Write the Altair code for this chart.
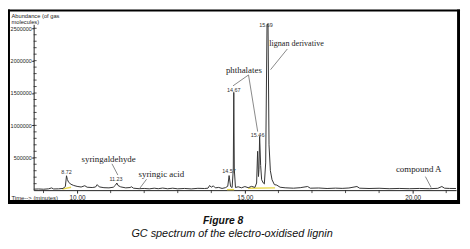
import altair as alt
import pandas as pd

# ---- chromatogram trace (retention time [min], abundance) ----
trace_time = [8.71, 8.85, 9.00, 9.15, 9.24, 9.30, 9.45, 9.58, 9.65, 9.685, 9.71, 9.75, 9.82, 9.90,
              10.00, 10.12, 10.23, 10.30, 10.45, 10.55, 10.60, 10.66, 10.80, 10.95, 11.08, 11.15,
              11.185, 11.22, 11.30, 11.45, 11.58, 11.62, 11.68, 11.85, 12.00, 12.15, 12.30, 12.42,
              12.55, 12.70, 12.85, 13.00, 13.20, 13.40, 13.60, 13.80, 13.90, 13.95, 14.00, 14.06,
              14.12, 14.22, 14.32, 14.42, 14.49, 14.53, 14.575, 14.62, 14.655, 14.67, 14.685, 14.72,
              14.80, 14.90, 15.00, 15.10, 15.20, 15.30, 15.35, 15.38, 15.405, 15.42, 15.44, 15.47,
              15.50, 15.55, 15.58, 15.62, 15.66, 15.69, 15.72, 15.76, 15.81, 15.88, 15.95, 16.05,
              16.20, 16.45, 16.65, 16.87, 16.95, 17.20, 17.45, 17.70, 17.90, 18.10, 18.34, 18.42,
              18.70, 19.00, 19.30, 19.60, 19.90, 20.20, 20.50, 20.75, 20.87, 20.95, 21.10, 21.29]
trace_abund = [15000, 18000, 14000, 20000, 34000, 18000, 20000, 26000, 55000, 222000, 165000, 120000, 90000, 72000,
               58000, 48000, 68000, 45000, 40000, 48000, 85000, 50000, 38000, 35000, 45000, 80000,
               110000, 72000, 50000, 35000, 40000, 52000, 30000, 22000, 26000, 20000, 30000, 22000,
               32000, 21000, 30000, 20000, 26000, 19000, 28000, 25000, 30000, 72000, 45000, 66000,
               35000, 42000, 26000, 38000, 60000, 225000, 55000, 40000, 320000, 1510000, 320000, 40000,
               52000, 36000, 55000, 38000, 58000, 42000, 110000, 600000, 210000, 320000, 830000, 380000,
               160000, 110000, 95000, 420000, 2560000, 2560000, 700000, 300000, 160000, 85000, 78000, 45000,
               36000, 30000, 38000, 56000, 30000, 33000, 25000, 31000, 27000, 33000, 56000, 30000,
               25000, 29000, 22000, 26000, 22000, 26000, 22000, 28000, 56000, 30000, 26000, 25000]

# ---- integration baselines (yellow) ----
yellow_seg = [1, 1, 2, 2, 3, 3]
yellow_time = [9.56, 9.82, 14.47, 14.68, 15.10, 15.90]
yellow_abund = [15000, 45000, 8000, 8000, 30000, 35000]

# ---- retention-time labels on peaks ----
peak_text = ["8.72", "11.23", "14.57", "14.67", "15.46", "15.69"]
peak_time = [9.685, 11.16, 14.53, 14.67, 15.38, 15.63]
peak_abund = [279000, 175000, 297000, 1550000, 854000, 2556000]

# ---- compound annotations ----
annot_text = ["syringaldehyde", "syringic acid", "phthalates", "lignan derivative", "compound A"]
annot_time = [10.94, 12.51, 14.97, 16.54, 20.18]
annot_abund = [473000, 244000, 1860000, 2256000, 320000]
annot_size = [9, 9, 9, 8.2, 9]

# ---- leader lines ----
lead_t1 = [11.04, 12.07, 15.109, 15.109, 16.265, 20.38]
lead_a1 = [407000, 168000, 1779000, 1779000, 2180000, 209000]
lead_t2 = [11.215, 11.87, 14.647, 15.382, 15.765, 20.55]
lead_a2 = [233000, 30000, 1611000, 904000, 1860000, 41000]

# ---- axes ----
x_major = [10, 15, 20]
x_minor = [9, 11, 12, 13, 14, 16, 17, 18, 19, 21]
y_major = [500000, 1000000, 1500000, 2000000, 2500000]
y_minor = [100000, 200000, 300000, 400000, 500000, 600000, 700000, 800000, 900000, 1000000,
           1100000, 1200000, 1300000, 1400000, 1500000, 1600000, 1700000, 1800000, 1900000, 2000000,
           2100000, 2200000, 2300000, 2400000, 2500000]

caption_title = "Figure 8"
caption_sub = "GC spectrum of the electro-oxidised lignin"

trace = pd.DataFrame({"t": trace_time, "a": trace_abund})
yellow = pd.DataFrame({"seg": yellow_seg, "t": yellow_time, "a": yellow_abund})
peaks = pd.DataFrame({"label": peak_text, "t": peak_time, "a": peak_abund})
annots = pd.DataFrame({"label": annot_text, "t": annot_time, "a": annot_abund, "s": annot_size})
leads = pd.DataFrame({"t1": lead_t1, "a1": lead_a1, "t2": lead_t2, "a2": lead_a2})
yminor = pd.DataFrame({"v": y_minor})
xminor = pd.DataFrame({"v": x_minor})
one = pd.DataFrame({"k": [0]})

xs = alt.Scale(domain=[8.706, 21.294], nice=False, zero=False)
ys = alt.Scale(domain=[0, 2561000], nice=False, zero=True)
INK = "#222222"

x_axis = alt.Axis(values=x_major, format=".2f",
                  tickSize=3, tickColor=INK, domainColor=INK, labelColor=INK, labelFont="Liberation Sans",
                  labelFontSize=6.5, labelPadding=1, grid=False, labelOverlap=False, labelFlush=False,
                  title="Time--> (minutes)", titleFont="Liberation Sans", titleFontSize=6,
                  titleFontWeight="normal", titleColor=INK, titleAlign="left", titleBaseline="middle",
                  titleX=-23, titleY=7, titleAngle=0)
y_axis = alt.Axis(values=y_major, format="d", tickSize=2, tickColor=INK, domainColor=INK,
                  labelColor=INK, labelFont="Liberation Sans", labelFontSize=5.5, labelPadding=0.5,
                  grid=False, labelOverlap=False, labelFlush=False,
                  title=["Abundance (of gas", "molecules)"], titleFont="Liberation Sans",
                  titleFontSize=5.8, titleFontWeight="normal", titleColor=INK, titleAngle=0,
                  titleAlign="left", titleBaseline="top", titleX=-23, titleY=-12, titleLineHeight=6.5)

line = alt.Chart(trace).mark_line(color="#333333", strokeWidth=1).encode(
    x=alt.X("t:Q", scale=xs, axis=x_axis),
    y=alt.Y("a:Q", scale=ys, axis=y_axis),
    order="t:Q",
)

ylw = alt.Chart(yellow).mark_line(color="#e8d84a", strokeWidth=1.4).encode(
    x=alt.X("t:Q", scale=xs), y=alt.Y("a:Q", scale=ys), detail="seg:N")

y_minor_ticks = alt.Chart(yminor).mark_rule(color=INK, strokeWidth=0.8).encode(
    x=alt.value(0), x2=alt.value(3), y=alt.Y("v:Q", scale=ys))

x_minor_ticks = alt.Chart(xminor).mark_rule(color=INK, strokeWidth=0.8).encode(
    x=alt.X("v:Q", scale=xs), y=alt.value(168), y2=alt.value(171))

leaders = alt.Chart(leads).mark_rule(color="#555555", strokeWidth=0.7).encode(
    x=alt.X("t1:Q", scale=xs), y=alt.Y("a1:Q", scale=ys), x2="t2:Q", y2="a2:Q")

annot = alt.Chart(annots).mark_text(font="Liberation Serif", color="#222222", align="center",
                                    baseline="middle").encode(
    x=alt.X("t:Q", scale=xs), y=alt.Y("a:Q", scale=ys), text="label:N",
    size=alt.Size("s:Q", scale=None, legend=None))

plabels = alt.Chart(peaks).mark_text(font="Liberation Sans", fontSize=5.5, color="#333333",
                                     align="center", baseline="middle").encode(
    x=alt.X("t:Q", scale=xs), y=alt.Y("a:Q", scale=ys), text="label:N")

frame_left = alt.Chart(one).mark_rule(color="black", strokeWidth=2).encode(
    x=alt.value(-25), y=alt.value(-15), y2=alt.value(182))
frame_top = alt.Chart(one).mark_rule(color="black", strokeWidth=2).encode(
    x=alt.value(-26), x2=alt.value(432), y=alt.value(-14))
frame_right = alt.Chart(one).mark_rule(color="black", strokeWidth=3).encode(
    x=alt.value(430.5), y=alt.value(-15), y2=alt.value(182))
frame_bottom = alt.Chart(one).mark_rule(color="black", strokeWidth=4).encode(
    x=alt.value(-26), x2=alt.value(432), y=alt.value(180))

cap1 = alt.Chart(one).mark_text(font="Liberation Sans", fontSize=10.5, fontWeight="bold",
                                fontStyle="italic", color="#111111", align="center",
                                baseline="alphabetic").encode(
    x=alt.value(192), y=alt.value(202), text=alt.value(caption_title))
cap2 = alt.Chart(one).mark_text(font="Liberation Sans", fontSize=11, fontStyle="italic",
                                color="#111111", align="center", baseline="alphabetic").encode(
    x=alt.value(201), y=alt.value(215.5), text=alt.value(caption_sub))

chart = alt.layer(
    ylw, line, y_minor_ticks, x_minor_ticks, leaders, annot, plabels,
    frame_left, frame_top, frame_right, frame_bottom, cap1, cap2
).properties(
    width=428, height=168,
    autosize=alt.AutoSizeParams(type="none"),
    padding={"left": 26, "top": 15, "right": 6, "bottom": 50},
    background="white",
).configure_view(strokeWidth=0)

chart.save("out.html", embed_options={"renderer": "svg", "actions": False})
